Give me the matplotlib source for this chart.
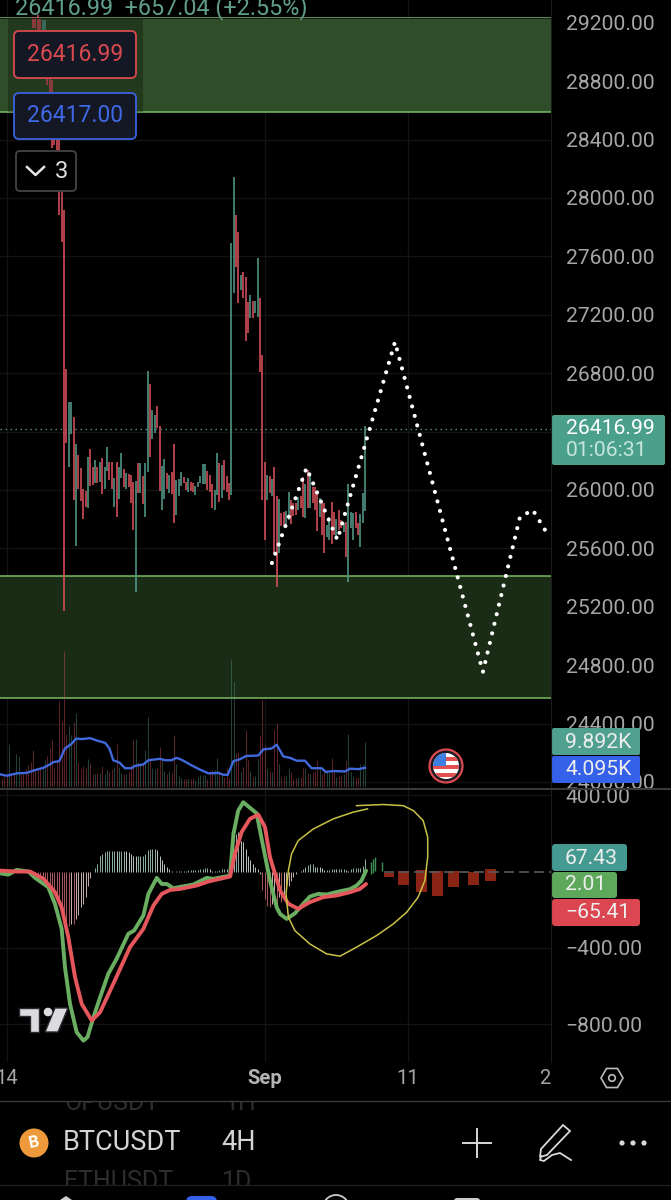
import numpy as np
import matplotlib
matplotlib.use("Agg")
import matplotlib.pyplot as plt
from matplotlib.patches import Circle, FancyBboxPatch, Polygon, Rectangle
from matplotlib.transforms import Bbox

W, H = 671, 1200
plt.rcParams['font.family'] = ['Roboto', 'DejaVu Sans']

# candles, first one sits 13 bars before the big red one
candle_high = [29240, 29240, 29254, 29233, 29219, 29219, 28945, 28822, 28808, 28671, 28466, 28397, 28041,
    27918, 26828, 26605, 26605, 26502, 26312, 26239, 26152, 26004, 25993,
    26223, 26278, 26155, 26205, 26155, 26194, 26217, 26160, 26292, 26194,
    26189, 26084, 26194, 26160, 26255, 26141, 26114, 26109, 26102, 26052,
    26063, 26182, 26182, 26096, 26182, 26817, 26726, 26548, 26513, 26577,
    26440, 26164, 26210, 26118, 26102, 26125, 26312, 26068, 26073, 26121,
    26087, 26057, 26080, 26057, 26045, 26027, 26057, 26095,
    26178, 26178, 26133, 26103, 26041, 26000, 26251, 26188, 26171, 26206,
    26096, 26046, 27690, 28142, 27884, 27765, 27473, 27496, 27461, 27286,
    27336, 27297, 27297, 27587, 27313, 26925, 26194, 26103, 26096, 26073,
    26156, 25962, 25936, 25840, 25852, 25859, 25989, 25932, 25909, 25909,
    25955, 25959, 26087, 26039, 26137, 26103, 26023, 26023, 25989, 25943,
    25920, 25909, 25761, 25818, 25916, 25852, 25799, 25863, 25795, 25772,
    25783, 26041, 25852, 25840, 25852, 25772, 25836, 25982, 26439]
candle_low = [29165, 29165, 29151, 29151, 29151, 29151, 28774, 28726, 28343, 28363, 28192, 27884, 27699,
    25171, 26319, 26160, 26383, 25931, 25618, 26004, 25927, 25803, 25885,
    25874, 26027, 26034, 26045, 26050, 26057, 25970, 26004, 26132, 26068,
    26004, 25881, 25817, 25936, 26080, 26022, 26004, 26022, 25913, 25726,
    25303, 25977, 25981, 25904, 25812, 26125, 26223, 26347, 26388, 26422,
    25993, 25863, 25936, 26004, 25977, 25972, 25776, 25828, 25959, 26027,
    26045, 26000, 25988, 25995, 25988, 25966, 26018, 26045,
    26041, 26041, 26000, 25989, 25875, 25863, 25966, 25920, 25943, 26000,
    25989, 25932, 25966, 27352, 27530, 27283, 27370, 27313, 27021, 27073,
    27176, 27176, 27210, 27187, 26806, 25932, 25658, 25932, 25982, 25959,
    25567, 25338, 25567, 25754, 25760, 25767, 25795, 25765, 25822, 25829,
    25863, 25875, 25818, 25806, 25875, 25875, 25909, 25863, 25722, 25818,
    25692, 25567, 25681, 25658, 25630, 25692, 25681, 25726, 25738, 25715,
    25544, 25372, 25738, 25658, 25738, 25692, 25612, 25772, 25859]
candle_dir = ("rrrrggrrrrrrr"
    "rrggrgrrrrgrrgrgrggrrgrggrgrrrgrgrggrgg" "rrggrgrrggg" "rrgrrggg"
    "ggrrrggrgrrrggrrgrrrgrggrrrgrgrrgrrggrrrgrrgrgrrrgrrggrrgrrgrgggrrggg")
candle_first = -13

# volume in K, one per bar, from the left edge of the screen
volume = [1.8, 2.1, 2.5, 9.1, 2.8, 2.8, 7.0, 6.7, 3.0, 2.8, 3.9, 4.6, 5.3,
    7.8, 3.9, 3.9, 3.9, 4.3, 5.7, 6.7, 8.2, 9.9, 4.1, 5.5, 18.4, 14.0,
    29.0, 11.3, 12.9, 11.0, 13.8, 15.8, 5.3, 4.1, 4.4, 4.1, 6.0, 5.1, 2.7, 2.8, 3.0, 3.0,
    4.4, 2.7, 3.7, 3.2, 3.9, 4.3, 9.1, 4.3, 3.0, 2.8, 2.8, 3.2, 5.0, 9.9, 10.3, 5.3, 4.8,
    5.0, 7.9, 14.8, 6.2, 4.0, 3.8, 4.0, 8.5, 6.0, 3.5, 2.7, 3.5, 3.0, 11.0, 5.0, 2.3, 2.0,
    1.6, 1.8, 1.8, 1.8, 2.0, 1.4, 2.1, 2.5, 2.5, 2.5, 1.8, 3.4, 3.7, 3.7, 6.2, 3.4, 2.5,
    2.1, 4.1, 2.0, 27.0, 22.3, 7.2, 7.4, 3.5, 4.3, 12.1, 5.7, 3.5, 2.1, 2.3, 6.0, 11.0,
    18.8, 8.9, 4.1, 3.4, 3.2, 12.1, 13.6, 5.0, 2.1, 2.3, 2.5, 4.1, 3.2, 1.8, 2.0, 2.1,
    2.1, 4.1, 4.1, 3.0, 2.7, 3.2, 3.4, 5.7, 3.9, 2.7, 3.5, 3.7, 3.0, 6.2, 3.4, 2.1, 2.3,
    2.5, 2.7, 5.7, 11.2, 3.2, 2.3, 2.0, 2.1, 4.8, 5.0, 9.6]
volume_first = -26
volume_dir_left = "rrrgrrggrrrrr"
ma_x = [-26.8, -24, -19.8, -15.6, -12.8, -8.6, -5.9, -4.5, -2, 0.4, 3.2, 5, 7.4, 10.9, 13.7, 17.2, 19,
    20.6, 23.2, 25.5, 28.3, 29.7, 33.2, 35.3, 40.2, 42.3, 45, 47.1, 49.2, 53.4, 56.9, 60.4, 64.6,
    66.7, 68.5, 70.9, 73.6, 76.2, 81.3, 83.4, 86.9, 89, 91.8, 94.6, 97.4, 100.8, 103.6, 107.8,
    109.6, 112.7, 117.6, 119.7, 123.2, 126]
ma_vol = [2.7, 2.4, 2.9, 3.0, 3.5, 4.1, 4.8, 5.3, 5.5, 8.2, 9.2, 10.3, 10.2, 10.4, 9.9, 9.4, 8.2,
    5.7, 5.2, 4.0, 4.0, 4.5, 4.8, 5.7, 6.0, 5.7, 5.7, 6.2, 5.8, 4.6, 3.7, 2.9, 3.0,
    2.6, 2.6, 5.5, 5.9, 6.6, 6.7, 8.0, 8.2, 9.0, 6.5, 6.2, 5.6, 5.6, 4.0, 4.0,
    3.2, 3.4, 3.3, 3.9, 3.8, 4.1]

# MACD pane
hist_first = -12
hist = [-7, -12, -21, -26, -33, -47, -65, -82, -108, -134, -178, -230, -248, -265, -283, -274, -274,
    -248, -230, -187, -169, -134, -73, -33, -3,
    19, 40, 79, 92, 101, 110, 110, 110, 110, 106, 106, 110, 110, 106, 105, 92, 84, 79, 79, 79, 79,
    92, 113, 119, 119, 119, 113, 79, 58, 40, 26, 14, 5, 0, 3, 5, 5, 5, 5, 7, 7, 9, 9, 9, 12, 14, 17,
    21, 12, 5, 3, 5, 9, 12, 12, 14, 5, 23, 84, 197, 206, 162, 154, 119, 84, 58, 37, 23, 14,
    -12, -99, -143, -178, -183, -169, -134, -169, -134, -161, -117, -91, -73, -47, -26, -12, -3,
    2, 14, 26, 33, 37, 37, 26, 26, 23, 19, 9, 9, 9, 14, 14, 12, 16, 16, 16, 10, 5, 16, 19, 19, 19, 19, 30, 66]
macd_green_x = [-26.8, -23.3, -19.8, -14.9, -12.1, -6.6, -3.8, -1, 0.4, 2.5, 5.3, 8.1, 9.8, 12.3, 15.1,
    18.5, 22, 26.9, 29.3, 33.2, 35.3, 38.8, 40.9, 43, 45.7, 54.1, 59.7, 62.5, 69.5, 70.9, 72.9, 75,
    80.6, 83.4, 86.2, 89, 90.4, 93.2, 96.7, 100.1, 102.9, 106.4, 109.9, 115.5, 119.7, 122.5, 124.5, 126.4]
macd_green = [-9, -16, 9, 0, -33, -82, -169, -300, -501, -693, -841, -885, -867, -763, -658,
    -536, -457, -326, -309, -230, -117, -33, -65, -65, -87, -68, -33, -38, -21, 197, 319, 363,
    305, 127, -47, -187, -222, -248, -218, -169, -131, -117, -120, -103, -92, -73, -47, 5]
macd_red_x = [-26.8, -19.8, -14.2, -8.6, -3.8, -1, 1.8, 4.6, 7.4, 11.6, 15.1, 20.6, 27.6, 33.2, 37.4,
    40.9, 44.4, 48.5, 55.5, 60.4, 69.5, 71.5, 74.3, 77.8, 81.3, 84.1, 86.2, 90.4, 93.9, 98, 102.9,
    108.5, 114.1, 119.7, 123.8, 126.4]
macd_red = [5, 0, 0, -38, -108, -187, -344, -553, -693, -780, -736, -588, -396, -300, -178,
    -117, -96, -91, -73, -52, -26, 92, 206, 276, 298, 232, 75, -99, -169, -195, -160,
    -134, -125, -108, -91, -65]

# hand drawn stuff on top of the chart
path_x = [87, 101.5, 114.4, 138.5, 175.3, 190.8, 196.2, 201.3]
path_price = [25500, 26151, 25658, 27014, 24753, 25815, 25863, 25726]
circle_x = [127, 121, 112.7, 104.3, 98, 95.2, 93.9, 92.9, 93.9, 96.6, 102.9, 109.9, 115.5, 122.4, 130.8,
    137.8, 143.4, 148.2, 151, 152.2, 152.2, 150.3, 146.2, 142, 133.6, 122.4]
circle_val = [328, 311, 276, 223, 162, 92, 5, -117, -239, -309, -379, -431, -443, -396, -335,
    -274, -213, -134, -47, 75, 180, 267, 319, 345, 351, 345]
block_x = [136, 142.1, 149.6, 156.5, 163.2, 171.4, 178.5]
block_top = [-7, 5, 9, 5, 5, 0, 14]
block_bottom = [-26, -68, -105, -126, -82, -68, -51]
mark_x = [128.5, 129.5, 130.1, 133.2]
mark_top = [49, 66, 75, 49]
mark_bottom = [-12, -5, 5, 2]

zone_top = (28590, 29234)
zone_bottom = (24575, 25411)
last_price = 26417
price_ticks = [29200, 28800, 28400, 28000, 27600, 27200, 26800, 26400, 26000, 25600, 25200, 24800, 24400, 24000]
macd_ticks = [400, -400, -800]
time_ticks = [-24, 84, 144, 201]
time_labels = ['14', 'Sep', '11', '2']
grid_ticks = [-24, 84, 144]

RED = '#d8505a'
TEAL = '#529a88'
LABEL = '#a6a6a6'
GRID = '#131313'


def px_axes(x0, y0, x1, y1, **kw):
    # axes from pixel box, y counted from the top
    return fig.add_axes([x0 / W, 1 - y1 / H, (x1 - x0) / W, (y1 - y0) / H], **kw)


fig = plt.figure(figsize=(W / 100, H / 100), dpi=100, facecolor='black')
XLIM = (-26.8, 203.8)

# price pane
ax = px_axes(0, 0, 551, 790)
ax.set_facecolor('black')
ax.set_xlim(*XLIM)
ax.set_ylim(23945, 29356)
ax.set_yticks(price_ticks)
ax.set_yticklabels([f'{p}.00' for p in price_ticks], fontsize=15.2, color=LABEL)
ax.yaxis.tick_right()
ax.tick_params(axis='y', length=0, pad=10.5)
ax.tick_params(axis='x', length=0, labelbottom=False)
ax.set_xticks(grid_ticks)
ax.grid(color=GRID, lw=1)
ax.set_axisbelow(True)
for s in ax.spines.values():
    s.set_visible(False)
for tl, p in zip(ax.get_yticklabels(), price_ticks):
    if p == 24000:
        tl.set_clip_box(Bbox([[551, H - 788], [W, H]]))
        tl.set_clip_on(True)

ax.axhspan(*zone_top, color='#2f4d29', lw=0)
ax.axhspan(*zone_bottom, color='#1a2c16', lw=0)
for z in zone_top + zone_bottom:
    ax.axhline(z, color='#79bb64', lw=1.1)
ax.axhline(last_price, color=TEAL, lw=1, ls=(0, (1, 2.6)))

bar_x = candle_first + np.arange(len(candle_high))
bar_col = [RED if c == 'r' else TEAL for c in candle_dir]
ax.vlines(bar_x, candle_low, candle_high, colors=bar_col, lw=1.15)
ax.plot(path_x, path_price, color='white', lw=3, ls=(0, (0.01, 2.35)), dash_capstyle='round')

# volume sits in the lower part of the price pane
vax = px_axes(0, 600, 551, 787)
vax.patch.set_alpha(0)
vax.set_xlim(*XLIM)
vax.set_ylim(0, 39.8)
vax.axis('off')
vol_x = volume_first + np.arange(len(volume))
vol_dirs = volume_dir_left + candle_dir
vax.vlines(vol_x, 0, volume, colors=[RED if d == 'r' else TEAL for d in vol_dirs], lw=0.75, alpha=0.42)
vax.plot(ma_x, ma_vol, color='#4169dc', lw=1.7)

# macd pane
mac = px_axes(0, 790, 551, 1062)
mac.set_facecolor('black')
mac.set_xlim(*XLIM)
mac.set_ylim(-997, 427)
mac.set_yticks(macd_ticks)
mac.set_yticklabels(['400.00', '\u2212400.00', '\u2212800.00'], fontsize=15.2, color=LABEL)
mac.yaxis.tick_right()
mac.tick_params(axis='y', length=0, pad=10.5)
mac.tick_params(axis='x', length=0, labelbottom=False)
mac.set_xticks(grid_ticks)
mac.grid(color=GRID, lw=1)
mac.set_axisbelow(True)
for s in mac.spines.values():
    s.set_visible(False)

hist = np.array(hist)
hist_x = hist_first + np.arange(len(hist))
growing = np.abs(hist) >= np.abs(np.r_[0, hist[:-1]])
hist_col = []
for v, g in zip(hist, growing):
    if v < 0:
        hist_col.append('#c86a6c' if g else '#efd0d0')
    else:
        hist_col.append('#a8d0c8' if g else '#dce8e5')
mac.vlines(hist_x, 0, hist, colors=hist_col, lw=0.7, alpha=0.85)
mac.vlines(mark_x, mark_bottom, mark_top, colors='#3f8f55', lw=1)
mac.plot([134, 203.8], [0, 0], color='#5a5a5a', lw=1.2, ls=(0, (6, 3)))
mac.bar(block_x, np.array(block_top) - np.array(block_bottom), bottom=block_bottom, width=4.6, color='#8a2516')
mac.plot(macd_green_x, macd_green, color='#6aae62', lw=2.8, solid_capstyle='round')
mac.plot(macd_red_x, macd_red, color='#e5575c', lw=2.8, solid_capstyle='round')
mac.plot(circle_x, circle_val, color='#c8c244', lw=1.1)

# time labels
for t, lab in zip(time_ticks, time_labels):
    xpix = (t - XLIM[0]) / (XLIM[1] - XLIM[0]) * 551
    fig.text(xpix / W, 1 - 1079 / H, lab, color='#b4b4b4' if lab == 'Sep' else LABEL, fontsize=14.5,
             ha='center', va='center', fontweight='bold' if lab == 'Sep' else 'normal')

# app chrome, pixel coordinates
ui = fig.add_axes([0, 0, 1, 1], zorder=10)
ui.set_xlim(0, W)
ui.set_ylim(H, 0)
ui.axis('off')
ui.patch.set_alpha(0)


def badge(x0, y0, x1, y1, fc, ec=None, r=3):
    ui.add_patch(FancyBboxPatch((x0 + r, y0 + r), x1 - x0 - 2 * r, y1 - y0 - 2 * r,
                                boxstyle=f'round,pad={r},rounding_size={r}', fc=fc,
                                ec=ec if ec else fc, lw=1.3 if ec else 0))


ui.add_patch(Rectangle((8, 18), 135, 94, fc='black', alpha=0.25, lw=0))
ui.plot([0, 551], [17.5, 17.5], color='#1d1d1d', lw=0.8)
ui.plot([551, 551], [0, 1062], color='#1c1c1c', lw=0.8)
ui.plot([0, W], [788.5, 788.5], color='#3a3a3a', lw=1.5)
ui.text(15, 8, '26416.99  +657.04 (+2.55%)', color='#5f9e8c', fontsize=16.8, va='center')

badge(14, 31, 136, 78, '#141824', '#d9494f', r=5)
ui.text(75, 54.5, '26416.99', color='#d9494f', fontsize=16.5, ha='center', va='center')
badge(14, 93, 136, 139, '#141824', '#3b62e0', r=5)
ui.text(75, 116, '26417.00', color='#3f68e6', fontsize=16.5, ha='center', va='center')
badge(16, 151, 76, 191, 'black', '#444444', r=4)
ui.plot([27, 35.5, 44], [167, 175, 167], color='#e8e8e8', lw=1.8)
ui.text(62, 171.5, '3', color='#dddddd', fontsize=17, ha='center', va='center')

badge(552, 415, 665, 465, '#4aa08a', r=2)
ui.text(566, 428, '26416.99', color='white', fontsize=15.2, va='center')
ui.text(566, 451, '01:06:31', color='#c6e6dc', fontsize=15.2, va='center')
badge(552, 728, 640, 755, '#50a090', r=2)
ui.text(565, 742, '9.892K', color='#eeeeee', fontsize=15.2, va='center')
badge(552, 756, 640, 783, '#3560ea', r=2)
ui.text(565, 769.5, '4.095K', color='#eeeeee', fontsize=15.2, va='center')
badge(552, 844, 627, 871, '#449a90', r=3)
ui.text(565, 858, '67.43', color='#eeeeee', fontsize=15.2, va='center')
badge(552, 872, 617, 898, '#5ea85c', r=3)
ui.text(565, 885, '2.01', color='#eeeeee', fontsize=15.2, va='center')
badge(552, 899, 640, 926, '#dc4650', r=3)
ui.text(565, 913, '\u221265.41', color='#eeeeee', fontsize=15.2, va='center')

# flag
ui.add_patch(Circle((446, 766), 16.5, fc='#1a1a22', ec='#d9494f', lw=1.6))
flag_bg = Circle((446, 766), 13, fc='white', lw=0)
ui.add_patch(flag_bg)
for y0 in (757, 765, 773):
    st = Rectangle((432, y0), 28, 4, fc='#e25050', lw=0)
    ui.add_patch(st)
    st.set_clip_path(flag_bg)
canton = Rectangle((432, 752), 14, 14, fc='#3f7fe0', lw=0)
ui.add_patch(canton)
canton.set_clip_path(flag_bg)

# logo
logo = '#dcdce0'
ui.add_patch(Polygon([(19, 1008), (39, 1008), (39, 1032), (30, 1032), (30, 1016), (19, 1016)], fc=logo, ec='#2a2a30', lw=1))
ui.add_patch(Polygon([(55, 1008), (68, 1008), (58, 1032), (45, 1032)], fc=logo, ec='#2a2a30', lw=1))
ui.add_patch(Circle((48, 1012), 4.3, fc=logo, lw=0))

# settings hexagon
ang = np.deg2rad([0, 60, 120, 180, 240, 300])
ui.add_patch(Polygon(np.c_[612 + 11 * np.cos(ang), 1078 + 11 * np.sin(ang)], fc='none', ec='#bbbbbb', lw=1.2))
ui.add_patch(Circle((612, 1078), 3.3, fc='none', ec='#bbbbbb', lw=1.2))

# bottom bar, watchlist rows ghost through behind it (masks go above the text)
ui.text(64, 1103, 'OPUSDT', color='#2d2d2d', fontsize=18, va='center')
ui.text(225, 1103, '1H', color='#2d2d2d', fontsize=18, va='center')
ui.add_patch(Rectangle((0, 1090), W, 10.5, fc='black', lw=0, zorder=4))
ui.plot([0, W], [1100.5, 1100.5], color='#3a3a3a', lw=1, zorder=5)
ui.text(64, 1182, 'ETHUSDT', color='#2d2d2d', fontsize=18, va='center')
ui.text(222, 1182, '1D', color='#2d2d2d', fontsize=18, va='center')
ui.add_patch(Rectangle((0, 1185), W, 15, fc='black', lw=0, zorder=4))
ui.plot([0, W], [1185, 1185], color='#1e1e1e', lw=1, zorder=5)
ui.add_patch(Circle((34, 1143), 14.5, fc='#ee9a3a', lw=0))
ui.text(34, 1143, 'B', color='white', fontsize=12, fontweight='bold', ha='center', va='center', rotation=12)
ui.text(63, 1143, 'BTCUSDT', color='#d4d4d4', fontsize=19.5, va='center')
ui.text(221, 1143, '4H', color='#d4d4d4', fontsize=19.5, va='center')
ui.plot([477, 477], [1129, 1157], color='#d8d8d8', lw=1.4)
ui.plot([463, 491], [1143, 1143], color='#d8d8d8', lw=1.4)
ui.add_patch(Polygon([(541, 1149), (563, 1125), (570, 1131), (547, 1155), (540, 1157)], fc='none', ec='#d8d8d8', lw=1.3))
ui.plot([541, 540, 544, 552, 560, 571], [1156, 1160, 1161, 1155, 1153, 1160], color='#d8d8d8', lw=1.3)
for dx in (622, 633, 644):
    ui.add_patch(Circle((dx, 1143), 2.6, fc='#d8d8d8', lw=0))

# tab bar peeking in at the bottom edge
tab_z = 6
ui.add_patch(Polygon([(60, 1200), (66, 1196), (72, 1200)], fc='#d0d0d0', lw=0, zorder=tab_z))
ui.add_patch(FancyBboxPatch((188, 1198), 27, 6, boxstyle='round,pad=2,rounding_size=6', fc='#3560ea', lw=0, zorder=tab_z))
ui.add_patch(Circle((336, 1208), 13, fc='none', ec='#cccccc', lw=1.3, zorder=tab_z))
ui.add_patch(FancyBboxPatch((456, 1200), 22, 6, boxstyle='round,pad=2,rounding_size=3', fc='#cccccc', lw=0, zorder=tab_z))

fig.savefig('out.png', dpi=100, facecolor='black')
